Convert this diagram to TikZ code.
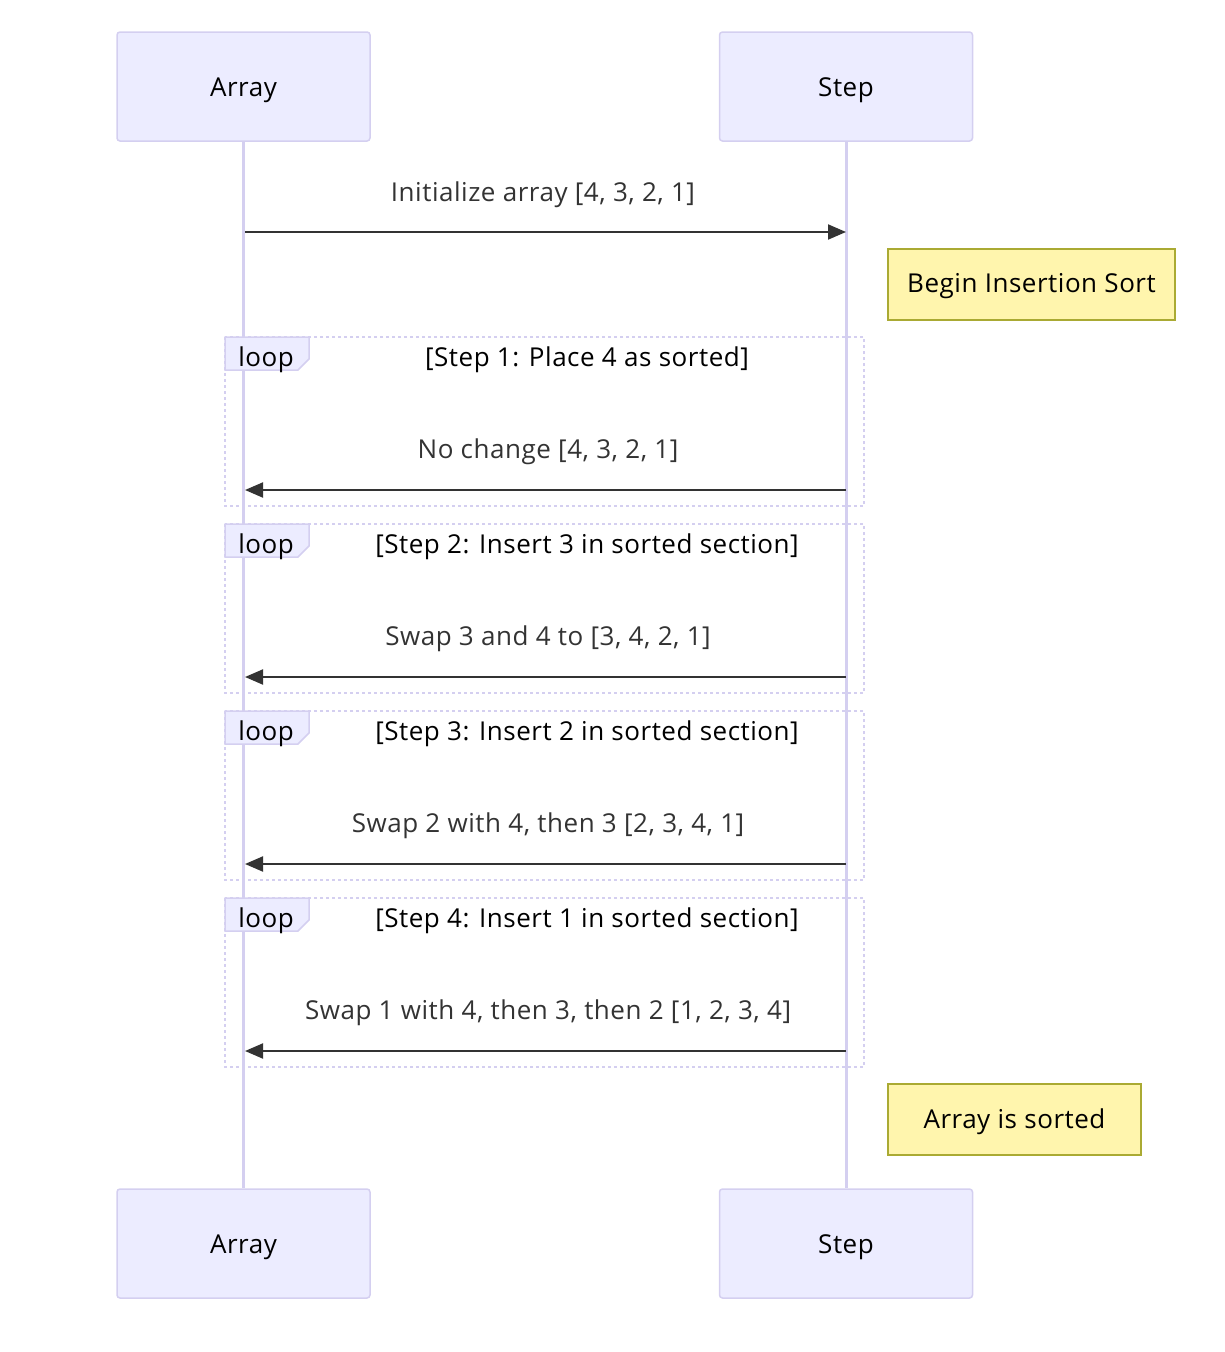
\documentclass[tikz,border=0pt]{standalone}
\usepackage{fontspec}
\setmainfont{Open Sans}[LetterSpace=2]
\usetikzlibrary{arrows.meta}
\definecolor{actfill}{HTML}{ECECFF}
\definecolor{actline}{HTML}{D4CFF0}
\definecolor{notefill}{HTML}{FFF5AD}
\definecolor{noteline}{HTML}{AAAA33}
\definecolor{msgc}{HTML}{333333}
\tikzset{
  actor/.style={draw=actline, fill=actfill, line width=1.5pt, rounded corners=3pt, minimum width=253pt, minimum height=109pt, inner sep=0pt},
  note/.style={draw=noteline, fill=notefill, line width=1.5pt, minimum height=71pt, inner sep=0pt},
  lifeline/.style={draw=actline, line width=3pt},
  msg/.style={draw=msgc, line width=2pt, -{Triangle[length=18pt,width=15pt]}},
  msgtext/.style={font=\fontsize{26}{30}\selectfont, text=msgc},
  looptitle/.style={font=\fontsize{26}{30}\selectfont, text=black},
  loopbox/.style={draw=actline, line width=2.2pt, dash pattern=on 3pt off 3pt},
  looptag/.style={draw=actline, fill=actfill, line width=1.5pt},
}
\begin{document}
\begin{tikzpicture}[x=1pt,y=-1pt]
\useasboundingbox (0,0) rectangle (1224,1352);
% actors and lifelines
\node[actor] (arrT) at (243.5,86.5) {};
\node[actor] (stpT) at (846,86.5) {};
\node[actor] (arrB) at (243.5,1243.5) {};
\node[actor] (stpB) at (846,1243.5) {};
\node[looptitle] (arrTl) at (243.5,90) {Array};
\node[looptitle] (stpTl) at (846,90) {Step};
\node[looptitle] (arrBl) at (243.5,1247) {Array};
\node[looptitle] (stpBl) at (846,1247) {Step};
\draw[lifeline] (arrT.south) -- (arrB.north);
\draw[lifeline] (stpT.south) -- (stpB.north);
% message 1
\coordinate (a0) at (245,232);
\coordinate (s0) at (846,232);
\node[msgtext] (t0) at (543,195) {Initialize array [4, 3, 2, 1]};
\draw[msg] (a0) -- (s0);
% note 1
\node[note, minimum width=287pt] (n1) at (1031.5,284.5) {};
\node[looptitle] (n1l) at (1031.5,286.5) {Begin Insertion Sort};
% loops
\foreach \i/\top/\title/\txt in {
  1/337/{[Step 1: Place 4 as sorted]}/{No change [4, 3, 2, 1]},
  2/524/{[Step 2: Insert 3 in sorted section]}/{Swap 3 and 4 to [3, 4, 2, 1]},
  3/711/{[Step 3: Insert 2 in sorted section]}/{Swap 2 with 4, then 3 [2, 3, 4, 1]},
  4/898/{[Step 4: Insert 1 in sorted section]}/{Swap 1 with 4, then 3, then 2 [1, 2, 3, 4]}} {
  \draw[loopbox] (225,\top) rectangle (864,\top+169);
  \draw[looptag] (225,\top) -- (309,\top) -- (309,\top+22) -- (298,\top+33) -- (225,\top+33) -- cycle;
  \node[looptitle] (tag\i) at (266,\top+23) {loop};
  \node[looptitle] (title\i) at (587,\top+23) {\title};
  \node[msgtext] (m\i) at (548,\top+115) {\txt};
  \coordinate (s\i) at (846,\top+153);
  \coordinate (a\i) at (245,\top+153);
  \draw[msg] (s\i) -- (a\i);
}
% note 2
\node[note, minimum width=253pt] (n2) at (1014.5,1119.5) {};
\node[looptitle] (n2l) at (1014.5,1121.5) {Array is sorted};
\end{tikzpicture}
\end{document}
